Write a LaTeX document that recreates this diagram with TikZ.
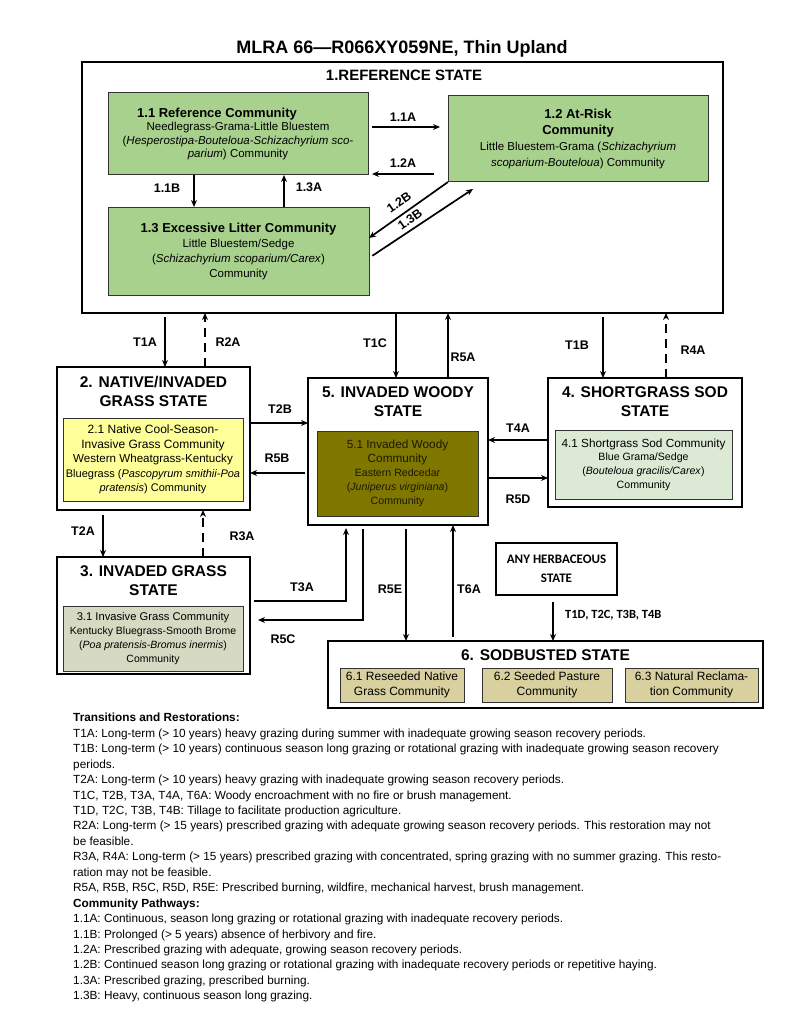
\documentclass[tikz,border=0pt]{standalone}
\usepackage{fontspec}
\setmainfont{Liberation Sans}
\newfontfamily\calibri{Carlito}
\usetikzlibrary{arrows.meta}
\newcommand{\fs}[2]{\fontsize{#1}{#2}\selectfont}
\definecolor{refgreen}{HTML}{A9D18E}
\definecolor{natyellow}{HTML}{FFFF99}
\definecolor{woodolive}{HTML}{7F7700}
\definecolor{sodgreen}{HTML}{DCEAD5}
\definecolor{invgrey}{HTML}{D6DAC2}
\definecolor{sodtan}{HTML}{D8D09F}
\definecolor{woodtext}{HTML}{1A1A00}
\tikzset{
  statebox/.style={draw=black, line width=2.6pt, inner sep=0pt, outer sep=0pt},
  comm/.style={draw=black!80, line width=1pt, inner sep=0pt, outer sep=0pt, align=center, font=\fs{11.5}{13.3}},
  stitle/.style={align=center, inner sep=0pt, font=\fs{15.5}{19}\bfseries},
  lbl/.style={inner sep=0pt, font=\fs{12.5}{14}\bfseries},
  arr/.style={line width=1.7pt, -{Stealth[length=7pt,width=6pt]}},
  darr/.style={arr, dash pattern=on 9pt off 6pt},
}
\begin{document}
\begin{tikzpicture}[x=1pt,y=-1pt]
\useasboundingbox (0,0) rectangle (800,1035);
% helper coordinates
\foreach \n/\v in {165/165,205/205,396/396,448/448,603/603,666/666,103/103,203/203,346/346,363/363,406/406,453/453,553/553,194/194,284/284,473/473}
  {\coordinate (x\n) at (\v,0);}
\foreach \n/\v in {127/127,174/174,238/238,258/258,189/189,423/423,473/473,440/440,478/478,601/601,620/620}
  {\coordinate (y\n) at (0,\v);}

% title
\node[inner sep=0pt, font=\fs{18}{20}\bfseries] (title) at (402,49) {MLRA 66—R066XY059NE, Thin Upland};

% reference state
\node[statebox, minimum width=641pt, minimum height=251pt] (ref) at (402.5,187.5) {};
\node[inner sep=0pt, font=\fs{15}{17}\bfseries] (reft) at (404,75) {1.REFERENCE STATE};
\node[comm, fill=refgreen, minimum width=260pt, minimum height=82pt] (n11) at (238,134)
  {{\fs{13}{13.3}\bfseries 1.1 Reference Community}\hspace*{42pt}\\
   Needlegrass-Grama-Little Bluestem\\
   (\textit{Hesperostipa-Bouteloua-Schizachyrium sco-}\\
   \textit{parium}) Community};
\node[comm, fill=refgreen, minimum width=260pt, minimum height=86pt, font=\fs{11.5}{16}] (n12) at (578,139)
  {{\fs{13}{16}\bfseries 1.2 At-Risk}\\
   {\fs{13}{16}\bfseries Community}\\
   Little Bluestem-Grama (\textit{Schizachyrium}\\
   \textit{scoparium-Bouteloua}) Community};
\node[comm, fill=refgreen, minimum width=261pt, minimum height=88pt, font=\fs{11.5}{15}] (n13) at (238.5,251)
  {{\fs{13}{15.5}\bfseries 1.3 Excessive Litter Community}\\
   Little Bluestem/Sedge\\
   (\textit{Schizachyrium scoparium/Carex})\\
   Community};

% community pathways
\draw[arr, shorten <=4pt, shorten >=8pt] (n11.east |- y127) -- (n12.west |- y127);
\draw[arr, shorten <=14pt, shorten >=4pt] (n12.west |- y174) -- (n11.east |- y174);
\draw[arr] (n11.south -| x194) -- (n13.north -| x194);
\draw[arr] (n13.north -| x284) -- (n11.south -| x284);
\draw[arr] (n12.south west) -- (n13.east |- y238);
\coordinate (e13b) at (473,189);
\draw[arr, shorten <=4pt] (n13.east |- y258) -- (e13b);
\node[lbl] (l11a) at (403,117) {1.1A};
\node[lbl] (l12a) at (403,163) {1.2A};
\node[lbl] (l11b) at (167,188) {1.1B};
\node[lbl] (l13a) at (309,187) {1.3A};
\node[lbl, rotate=35] (l12b) at (399,202) {1.2B};
\node[lbl, rotate=35] (l13b) at (410,219) {1.3B};

% state 2
\node[statebox, minimum width=193pt, minimum height=143pt] (s2) at (153.5,438.5) {};
\node[stitle] (s2t) at (153.5,391.5) {2. NATIVE/INVADED\\GRASS STATE};
\node[comm, fill=natyellow, minimum width=180pt, minimum height=83pt, font=\fs{11}{14.5}] (n21) at (153,459.5)
  {{\fs{12}{14.5}2.1 Native Cool-Season-}\\
   {\fs{12}{14.5}Invasive Grass Community}\\
   {\fs{11.6}{14.5}Western Wheatgrass-Kentucky}\\
   Bluegrass (\textit{Pascopyrum smithii-Poa}\\
   \textit{pratensis}) Community};

% state 5
\node[statebox, minimum width=180pt, minimum height=147pt] (s5) at (398,451.5) {};
\node[stitle] (s5t) at (398,402) {5. INVADED WOODY\\STATE};
\node[comm, fill=woodolive, text=woodtext, minimum width=161pt, minimum height=85pt, font=\fs{10.6}{14}] (n51) at (397.5,473.5)
  {{\fs{11.8}{14}5.1 Invaded Woody}\\
   {\fs{11.8}{14}Community}\\
   Eastern Redcedar\\
   (\textit{Juniperus virginiana})\\
   Community};

% state 4
\node[statebox, minimum width=194pt, minimum height=129pt] (s4) at (645,442.5) {};
\node[stitle] (s4t) at (645,402) {4. SHORTGRASS SOD\\STATE};
\node[comm, fill=sodgreen, minimum width=177pt, minimum height=69pt, font=\fs{10.6}{13.7}] (n41) at (643.5,464.5)
  {{\fs{11.8}{13.7}4.1 Shortgrass Sod Community}\\
   Blue Grama/Sedge\\
   (\textit{Bouteloua gracilis/Carex})\\
   Community};

% state 3
\node[statebox, minimum width=193pt, minimum height=117pt] (s3) at (153.5,615.5) {};
\node[stitle] (s3t) at (153.5,581) {3. INVADED GRASS\\STATE};
\node[comm, fill=invgrey, minimum width=180pt, minimum height=65pt, font=\fs{10.5}{13.7}] (n31) at (153,638.5)
  {{\fs{11.2}{13.7}3.1 Invasive Grass Community}\\
   Kentucky Bluegrass-Smooth Brome\\
   (\textit{Poa pratensis-Bromus inermis})\\
   Community};

% any herbaceous state
\node[draw=black, line width=2pt, inner sep=0pt, minimum width=121pt, minimum height=52pt, align=center, font=\calibri\fs{13}{19}\bfseries] (herb) at (556.5,569) {ANY HERBACEOUS\\STATE};

% state 6
\node[statebox, minimum width=435pt, minimum height=67pt] (s6) at (545.5,674.5) {};
\node[inner sep=0pt, font=\fs{15.5}{17}\bfseries] (s6t) at (545.5,655) {6. SODBUSTED STATE};
\node[comm, fill=sodtan, minimum width=124pt, minimum height=34pt, font=\fs{12}{15}] (n61) at (402,685) {6.1 Reseeded Native\\Grass Community};
\node[comm, fill=sodtan, minimum width=130pt, minimum height=34pt, font=\fs{12}{15}] (n62) at (547,685) {6.2 Seeded Pasture\\Community};
\node[comm, fill=sodtan, minimum width=133pt, minimum height=34pt, font=\fs{12}{15}] (n63) at (691.5,685) {6.3 Natural Reclama-\\tion Community};

% transitions between states
\draw[arr, shorten <=4pt] (ref.south -| x165) -- (s2.north -| x165);
\draw[darr] (s2.north -| x205) -- (ref.south -| x205);
\draw[arr] (ref.south -| x396) -- (s5.north -| x396);
\draw[arr] (s5.north -| x448) -- (ref.south -| x448);
\draw[arr, shorten <=4pt] (ref.south -| x603) -- (s4.north -| x603);
\draw[darr] (s4.north -| x666) -- (ref.south -| x666);
\draw[arr] (s2.east |- y423) -- (s5.west |- y423);
\draw[arr, shorten <=3pt] (s5.west |- y473) -- (s2.east |- y473);
\draw[arr] (s4.west |- y440) -- (s5.east |- y440);
\draw[arr] (s5.east |- y478) -- (s4.west |- y478);
\draw[arr, shorten <=5pt] (s2.south -| x103) -- (s3.north -| x103);
\draw[darr] (s3.north -| x203) -- (s2.south -| x203);
\draw[arr, shorten <=4pt, shorten >=3pt] (s3.east |- y601) -| (s5.south -| x346);
\draw[arr, shorten <=4pt, shorten >=8pt] (s5.south -| x363) |- (s3.east |- y620);
\draw[arr, shorten <=4pt] (s5.south -| x406) -- (s6.north -| x406);
\draw[arr, shorten <=4pt] (s6.north -| x453) -- (s5.south -| x453);
\draw[arr, shorten <=6pt] (herb.south -| x553) -- (s6.north -| x553);

\node[lbl] (lt1a) at (145,342) {T1A};
\node[lbl] (lr2a) at (228,342) {R2A};
\node[lbl] (lt1c) at (375,343) {T1C};
\node[lbl] (lr5a) at (463,357) {R5A};
\node[lbl] (lt1b) at (577,345) {T1B};
\node[lbl] (lr4a) at (693,350) {R4A};
\node[lbl] (lt2b) at (280,409) {T2B};
\node[lbl] (lr5b) at (277,458) {R5B};
\node[lbl] (lt4a) at (518,428) {T4A};
\node[lbl] (lr5d) at (518,499) {R5D};
\node[lbl] (lt2a) at (83,531) {T2A};
\node[lbl] (lr3a) at (242,536) {R3A};
\node[lbl] (lt3a) at (302,587) {T3A};
\node[lbl] (lr5c) at (283,639) {R5C};
\node[lbl] (lr5e) at (390,589) {R5E};
\node[lbl] (lt6a) at (469,589) {T6A};
\node[lbl, anchor=west, font=\calibri\fs{12.5}{14}\bfseries] (lt1d) at (565,615) {T1D, T2C, T3B, T4B};

% legend
\node[anchor=north west, inner sep=0pt, align=left, font=\fs{11.8}{15.45}] (legend) at (73,713) {%
\textbf{Transitions and Restorations:}\\
T1A: Long-term (> 10 years) heavy grazing during summer with inadequate growing season recovery periods.\\
T1B: Long-term (> 10 years) continuous season long grazing or rotational grazing with inadequate growing season recovery\\
periods.\\
T2A: Long-term (> 10 years) heavy grazing with inadequate growing season recovery periods.\\
T1C, T2B, T3A, T4A, T6A: Woody encroachment with no fire or brush management.\\
T1D, T2C, T3B, T4B: Tillage to facilitate production agriculture.\\
R2A: Long-term (> 15 years) prescribed grazing with adequate growing season recovery periods. This restoration may not\\
be feasible.\\
R3A, R4A: Long-term (> 15 years) prescribed grazing with concentrated, spring grazing with no summer grazing. This resto-\\
ration may not be feasible.\\
R5A, R5B, R5C, R5D, R5E: Prescribed burning, wildfire, mechanical harvest, brush management.\\
\textbf{Community Pathways:}\\
1.1A: Continuous, season long grazing or rotational grazing with inadequate recovery periods.\\
1.1B: Prolonged (> 5 years) absence of herbivory and fire.\\
1.2A: Prescribed grazing with adequate, growing season recovery periods.\\
1.2B: Continued season long grazing or rotational grazing with inadequate recovery periods or repetitive haying.\\
1.3A: Prescribed grazing, prescribed burning.\\
1.3B: Heavy, continuous season long grazing.};
\end{tikzpicture}
\end{document}
